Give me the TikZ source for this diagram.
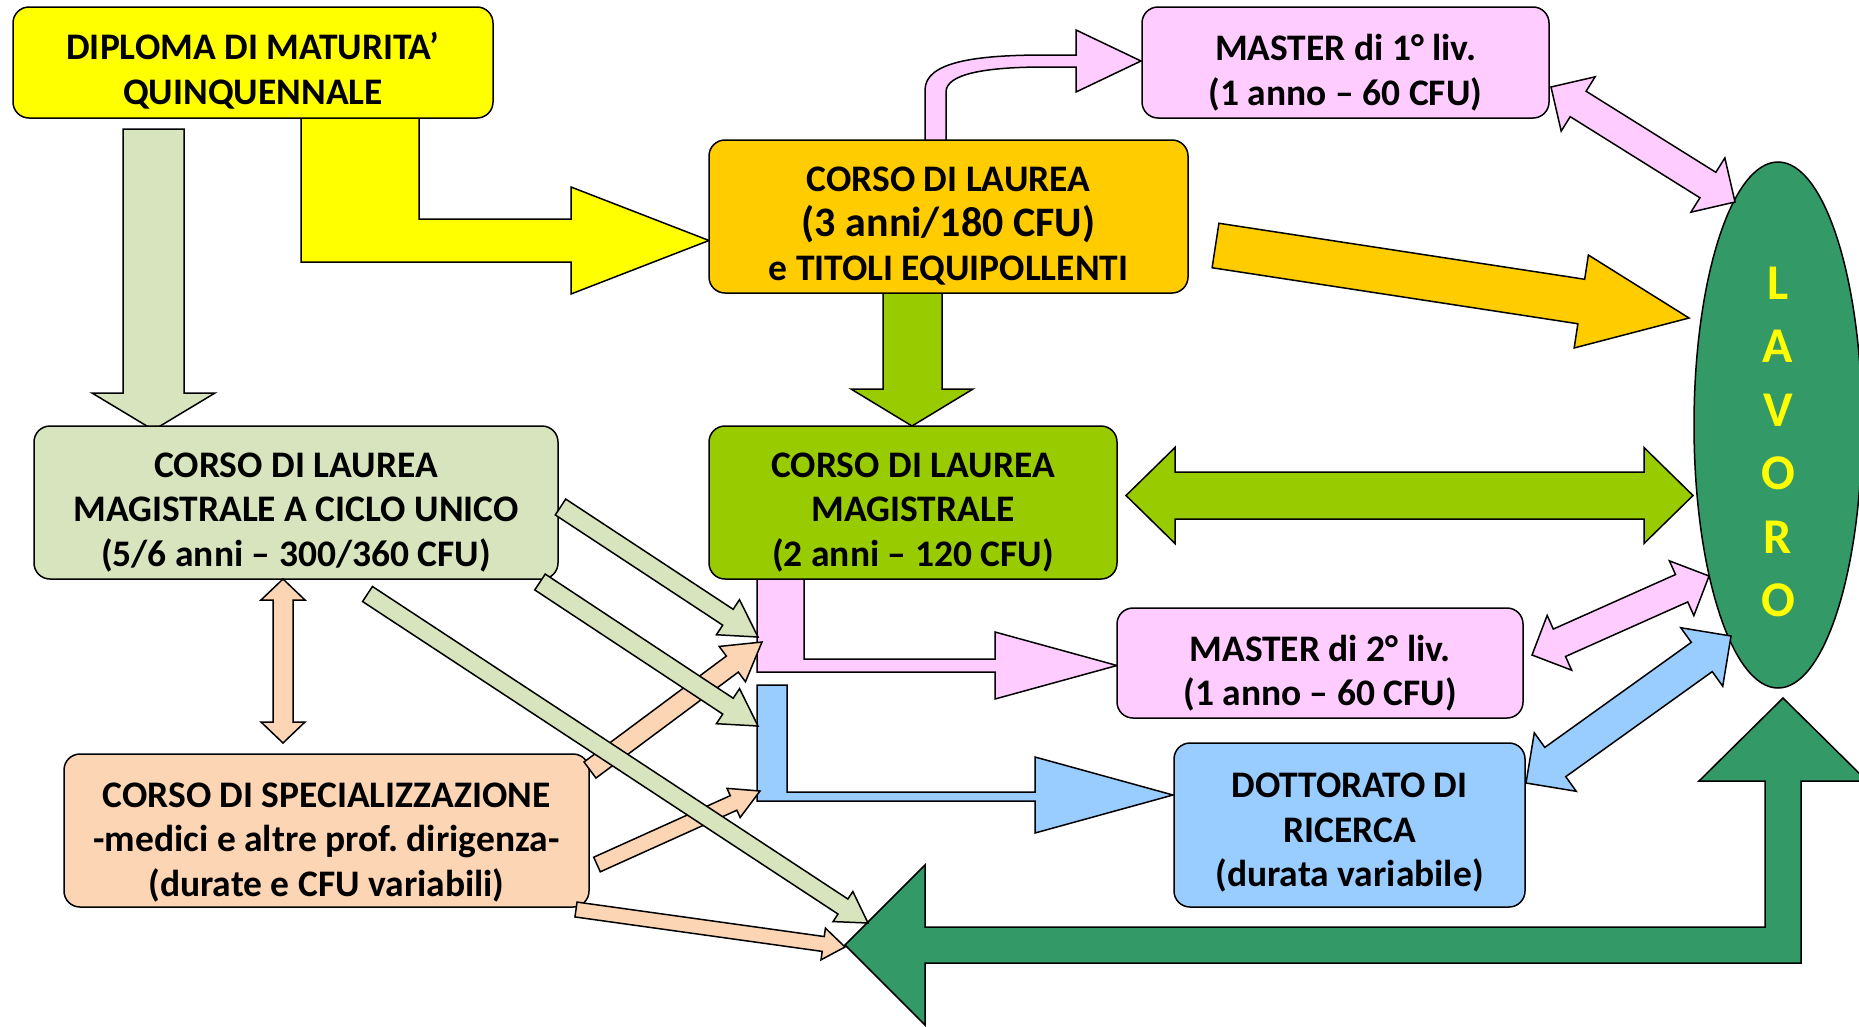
\documentclass[tikz,border=0pt]{standalone}
\usepackage{fontspec}
\setmainfont{Carlito}
\usetikzlibrary{calc}
\usetikzlibrary{shapes.geometric}
\definecolor{giallo}{RGB}{255,255,0}
\definecolor{arancio}{RGB}{255,204,0}
\definecolor{verde}{RGB}{153,204,0}
\definecolor{oliva}{RGB}{215,228,189}
\definecolor{pesca}{RGB}{252,213,181}
\definecolor{rosa}{RGB}{255,204,255}
\definecolor{azzurro}{RGB}{153,204,255}
\definecolor{verdescuro}{RGB}{51,153,102}
\newcommand{\boxfont}{\fontsize{37.5}{44.5}\selectfont\bfseries}
\newcommand{\lavorofont}{\fontsize{50}{63.5}\selectfont\bfseries}
% #1 colore, #2 da, #3 a, #4 mezza asta, #5 mezza punta, #6 lunghezza punta
\newcommand{\frecciasingola}[6]{%
    \path ($(#3)!#6!(#2)$) coordinate (hb);
    \draw[freccia, fill=#1] ($(#2)!#4!90:(#3)$) -- ($(hb)!#4!90:(#3)$) -- ($(hb)!#5!90:(#3)$) -- (#3)
        -- ($(hb)!#5!-90:(#3)$) -- ($(hb)!#4!-90:(#3)$) -- ($(#2)!#4!-90:(#3)$) -- cycle;
}
\newcommand{\frecciadoppia}[6]{%
    \path ($(#3)!#6!(#2)$) coordinate (hb) ($(#2)!#6!(#3)$) coordinate (ha);
    \draw[freccia, fill=#1] (#2) -- ($(ha)!#5!90:(#3)$) -- ($(ha)!#4!90:(#3)$) -- ($(hb)!#4!90:(#3)$)
        -- ($(hb)!#5!90:(#3)$) -- (#3) -- ($(hb)!#5!-90:(#3)$) -- ($(hb)!#4!-90:(#3)$)
        -- ($(ha)!#4!-90:(#3)$) -- ($(ha)!#5!-90:(#3)$) -- cycle;
}
\tikzset{
    common/.style={draw, line width=1.5pt},
    freccia/.style={common, line join=miter},
    box/.style={common, rounded corners=16pt, inner sep=0pt},
    testo/.style={align=center, inner sep=0pt, font=\boxfont, yshift=-10pt},
}

\begin{document}
\begin{tikzpicture}[x=1pt, y=-1pt]
    \useasboundingbox (0,0) rectangle (1859,1026);

    % frecce a gomito, sotto i riquadri
    \draw[freccia, fill=oliva] (123,129) -- (184,129) -- (184,393) -- (215,393) -- (153.5,430) -- (92,393) -- (123,393) -- cycle;
    \draw[freccia, fill=giallo] (301,116) -- (419,116) -- (419,219) -- (571,219) -- (571,187) -- (709,240.5)
        -- (571,294) -- (571,262) -- (301,262) -- cycle;
    \draw[freccia, fill=verde] (883,291) -- (942,291) -- (942,389) -- (973,389) -- (912,426) -- (851,389) -- (883,389) -- cycle;
    \draw[freccia, fill=rosa] (925,142) -- (925,90) .. controls (925,62) and (975,55) .. (1045,55) -- (1076,55) -- (1076,30)
        -- (1141,61) -- (1076,92) -- (1076,67) -- (1045,67) .. controls (985,67) and (946,74) .. (946,92) -- (946,142) -- cycle;
    \draw[freccia, fill=rosa] (757,577) -- (804,577) -- (804,659) -- (995,659) -- (995,632) -- (1117,665.5)
        -- (995,699) -- (995,672) -- (757,672) -- cycle;
    \draw[freccia, fill=azzurro] (757,685) -- (787,685) -- (787,792) -- (1035,792) -- (1035,757) -- (1173,795)
        -- (1035,833) -- (1035,801) -- (757,801) -- cycle;
    \draw[freccia, fill=verdescuro] (845,945) -- (925,865) -- (925,927) -- (1765,927) -- (1765,781) -- (1699,781)
        -- (1783,698) -- (1867,781) -- (1801,781) -- (1801,963) -- (925,963) -- (925,1025) -- cycle;

    % riquadri
    \node[box, fill=giallo, minimum width=480pt, minimum height=111pt] (diploma) at (253,62.5) {};
    \node[testo, yshift=2pt] (diploma-t) at (diploma.center) {DIPLOMA DI MATURITA’\\QUINQUENNALE};
    \node[box, fill=arancio, minimum width=479pt, minimum height=153pt] (laurea) at (948.5,216.5) {};
    \node[testo] (laurea-t) at (laurea.center)
        {CORSO DI LAUREA\\{\fontsize{42}{46}\selectfont (3 anni/180 CFU)}\\e TITOLI EQUIPOLLENTI};
    \node[box, fill=rosa, minimum width=407pt, minimum height=111pt] (master1) at (1345.5,62.5) {};
    \node[testo] (master1-t) at (master1.center) {MASTER di 1° liv.\\(1 anno – 60 CFU)};
    \node[box, fill=oliva, minimum width=524pt, minimum height=153pt] (ciclo) at (296,502.5) {};
    \node[testo] (ciclo-t) at (ciclo.center) {CORSO DI LAUREA\\MAGISTRALE A CICLO UNICO\\(5/6 anni – 300/360 CFU)};
    \node[box, fill=verde, minimum width=408pt, minimum height=153pt] (magistrale) at (913,502.5) {};
    \node[testo] (magistrale-t) at (magistrale.center) {CORSO DI LAUREA\\MAGISTRALE\\(2 anni – 120 CFU)};
    \node[box, fill=rosa, minimum width=406pt, minimum height=110pt] (master2) at (1320,663) {};
    \node[testo] (master2-t) at (master2.center) {MASTER di 2° liv.\\(1 anno – 60 CFU)};
    \node[box, fill=azzurro, minimum width=351pt, minimum height=164pt] (dottorato) at (1349.5,825) {};
    \node[testo, yshift=2pt] (dottorato-t) at (dottorato.center) {DOTTORATO DI\\RICERCA\\(durata variabile)};
    \node[box, fill=pesca, minimum width=525pt, minimum height=153pt] (spec) at (326.5,830.5) {};
    \node[testo, yshift=-2pt] (spec-t) at (spec.center)
        {CORSO DI SPECIALIZZAZIONE\\-medici e altre prof.\ dirigenza-\\(durate e CFU variabili)};
    \node[common, ellipse, fill=verdescuro, minimum width=168pt, minimum height=526pt] (lavoro) at (1778,425) {};
    \node[align=center, text=giallo, font=\lavorofont] (lavoro-t) at (1778,442) {L\\A\\V\\O\\R\\O};

    % estremi delle frecce
    \coordinate (oa1) at (560.5,507);  \coordinate (oa2) at (758,637);
    \coordinate (ob1) at (540,582);    \coordinate (ob2) at (758,726);
    \coordinate (oc1) at (367.5,594);  \coordinate (oc2) at (868,923);
    \coordinate (pa1) at (590,770);    \coordinate (pa2) at (762,642);
    \coordinate (pb1) at (597,864.5);  \coordinate (pb2) at (760,791);
    \coordinate (pc1) at (576,909.5);  \coordinate (pc2) at (845,947);
    \coordinate (pv1) at (283,579);    \coordinate (pv2) at (283,743);
    \coordinate (ar1) at (1215.5,245.5); \coordinate (ar2) at (1689,318);
    \coordinate (vd1) at (1126,495.5); \coordinate (vd2) at (1693,495.5);
    \coordinate (r11) at (1551,87);    \coordinate (r12) at (1735,202);
    \coordinate (r21) at (1532,655);   \coordinate (r22) at (1709,576);
    \coordinate (az1) at (1526,783);   \coordinate (az2) at (1731,636);

    \frecciasingola{arancio}{ar1}{ar2}{22.5pt}{47pt}{109pt}
    \frecciadoppia{verde}{vd1}{vd2}{23.5pt}{48pt}{49pt}
    \frecciadoppia{rosa}{r11}{r12}{15pt}{32pt}{32pt}
    \frecciadoppia{rosa}{r21}{r22}{15pt}{30pt}{30pt}
    \frecciadoppia{azzurro}{az1}{az2}{18pt}{36pt}{36pt}
    \frecciadoppia{pesca}{pv1}{pv2}{10pt}{22pt}{21pt}
    \frecciasingola{pesca}{pa1}{pa2}{10pt}{22pt}{37pt}
    \frecciasingola{pesca}{pb1}{pb2}{8pt}{16pt}{29pt}
    \frecciasingola{pesca}{pc1}{pc2}{7.5pt}{16pt}{22pt}
    \frecciasingola{oliva}{oa1}{oa2}{9.5pt}{21pt}{36pt}
    \frecciasingola{oliva}{ob1}{ob2}{9.5pt}{21pt}{36pt}
    \frecciasingola{oliva}{oc1}{oc2}{9pt}{18pt}{30pt}
\end{tikzpicture}
\end{document}
